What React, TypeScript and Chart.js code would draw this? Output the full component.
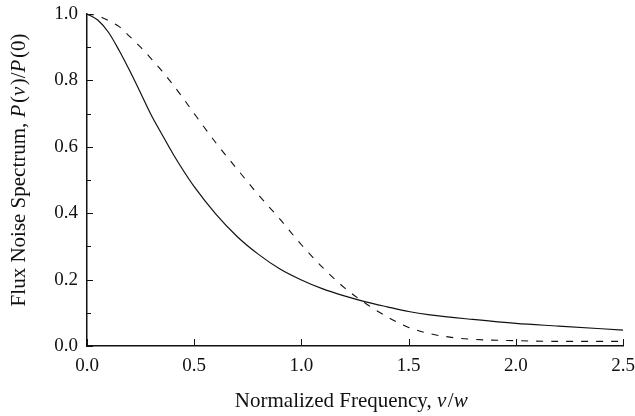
import React, { useEffect, useRef } from "react";
import { Chart, registerables } from "chart.js";

Chart.register(...registerables);

// Solid curve
const solidX = [0, 0.05, 0.1, 0.15, 0.2, 0.25, 0.3, 0.35, 0.4, 0.45, 0.5, 0.6, 0.7, 0.8, 0.9, 1.0, 1.1, 1.2, 1.3, 1.4, 1.5, 1.6, 1.8, 2.0, 2.2, 2.4, 2.5];
const solidY = [1.0, 0.982, 0.945, 0.89, 0.828, 0.762, 0.695, 0.637, 0.58, 0.528, 0.48, 0.398, 0.33, 0.276, 0.232, 0.199, 0.172, 0.151, 0.133, 0.118, 0.104, 0.094, 0.08, 0.068, 0.06, 0.052, 0.048];

// Dashed curve
const dashedX = [0, 0.05, 0.1, 0.15, 0.2, 0.25, 0.3, 0.35, 0.4, 0.45, 0.5, 0.6, 0.7, 0.8, 0.9, 1.0, 1.1, 1.2, 1.3, 1.4, 1.5, 1.6, 1.7, 1.8, 2.0, 2.2, 2.5];
const dashedY = [1.0, 0.995, 0.98, 0.962, 0.932, 0.9, 0.865, 0.828, 0.788, 0.745, 0.7, 0.613, 0.533, 0.455, 0.382, 0.305, 0.236, 0.176, 0.128, 0.088, 0.056, 0.037, 0.026, 0.02, 0.016, 0.014, 0.014];

const xMajorTicks = [0, 0.5, 1.0, 1.5, 2.0, 2.5];
const yMajorTicks = [0, 0.2, 0.4, 0.6, 0.8, 1.0];
const yMinorTicks = [0.1, 0.3, 0.5, 0.7, 0.9];

// Axis titles as [text, italic] runs
const xTitleRuns: [string, boolean][] = [["Normalized Frequency, ", false], ["\u03bd", true], ["/", false], ["w", true]];
const yTitleRuns: [string, boolean][] = [["Flux Noise Spectrum, ", false], ["P", true], ["(", false], ["\u03bd", true], [")/", false], ["P", true], ["(0)", false]];

const FONT = '"Liberation Serif", "Times New Roman", serif';
const INK = "#111";
const TICK_SIZE = 19;
const TITLE_SIZE = 21;

function drawRuns(ctx: CanvasRenderingContext2D, runs: [string, boolean][], cx: number, cy: number) {
  const fontFor = (it: boolean) => `${it ? "italic " : ""}${TITLE_SIZE}px ${FONT}`;
  let total = 0;
  const widths = runs.map(([t, it]) => {
    ctx.font = fontFor(it);
    const w = ctx.measureText(t).width + (it ? 1.5 : 0);
    total += w;
    return w;
  });
  let x = cx - total / 2;
  ctx.textBaseline = "middle";
  ctx.textAlign = "left";
  runs.forEach(([t, it], i) => {
    ctx.font = fontFor(it);
    ctx.fillText(t, x, cy);
    x += widths[i];
  });
}

const decorations = {
  id: "decorations",
  afterDatasetsDraw(chart: any) {
    const { ctx, chartArea, scales } = chart;
    const xs = scales.x;
    const ys = scales.y;
    ctx.save();
    ctx.strokeStyle = INK;
    ctx.lineWidth = 1;
    ctx.beginPath();
    yMajorTicks.forEach((v) => {
      const py = Math.round(ys.getPixelForValue(v)) + 0.5;
      ctx.moveTo(chartArea.left, py);
      ctx.lineTo(chartArea.left + 6, py);
    });
    yMinorTicks.forEach((v) => {
      const py = Math.round(ys.getPixelForValue(v)) + 0.5;
      ctx.moveTo(chartArea.left, py);
      ctx.lineTo(chartArea.left + 4, py);
    });
    xMajorTicks.forEach((v) => {
      const px = Math.round(xs.getPixelForValue(v)) + 0.5;
      ctx.moveTo(px, chartArea.bottom);
      ctx.lineTo(px, chartArea.bottom - 7);
    });
    ctx.stroke();

    ctx.fillStyle = INK;
    // x title
    drawRuns(ctx, xTitleRuns, (chartArea.left + chartArea.right) / 2 - 3, 401);
    // y title
    ctx.save();
    ctx.translate(19, (chartArea.top + chartArea.bottom) / 2 - 10);
    ctx.rotate(-Math.PI / 2);
    drawRuns(ctx, yTitleRuns, 0, 0);
    ctx.restore();
    ctx.restore();
  },
};

export default function App() {
  const ref = useRef<HTMLCanvasElement>(null);
  useEffect(() => {
    document.body.style.margin = "0";
    const canvas = ref.current;
    if (!canvas) return;
    const chart = new Chart(canvas, {
      type: "line",
      data: {
        datasets: [
          {
            data: solidX.map((x, i) => ({ x, y: solidY[i] })),
            borderColor: INK,
            borderWidth: 1.2,
            pointRadius: 0,
            cubicInterpolationMode: "monotone",
            fill: false,
          },
          {
            data: dashedX.map((x, i) => ({ x, y: dashedY[i] })),
            borderColor: INK,
            borderWidth: 1.1,
            borderDash: [7, 8],
            pointRadius: 0,
            cubicInterpolationMode: "monotone",
            fill: false,
          },
        ],
      },
      options: {
        animation: false,
        responsive: false,
        layout: { padding: { left: 0, top: 14, right: 12, bottom: 0 } },
        plugins: { legend: { display: false }, tooltip: { enabled: false } },
        scales: {
          x: {
            type: "linear",
            min: 0,
            max: 2.5,
            afterFit: (s: any) => {
              s.height = 70;
              s.paddingLeft = 0;
              s.paddingRight = 0;
            },
            grid: { drawOnChartArea: false, drawTicks: false },
            border: { display: true, color: INK, width: 1.5 },
            ticks: {
              stepSize: 0.5,
              padding: 9,
              color: INK,
              font: { family: FONT, size: TICK_SIZE },
              callback: (v: any) => Number(v).toFixed(1),
              maxRotation: 0,
            },
            title: { display: false },
          },
          y: {
            type: "linear",
            min: 0,
            max: 1,
            afterFit: (s: any) => {
              s.width = 87;
              s.paddingTop = 0;
              s.paddingBottom = 0;
            },
            grid: { drawOnChartArea: false, drawTicks: false },
            border: { display: true, color: INK, width: 1.5 },
            ticks: {
              stepSize: 0.2,
              padding: 9,
              color: INK,
              font: { family: FONT, size: TICK_SIZE },
              callback: (v: any) => Number(v).toFixed(1),
            },
            title: { display: false },
          },
        },
      },
      plugins: [decorations],
    } as any);
    return () => chart.destroy();
  }, []);
  return (
    <div style={{ width: 635, height: 416, background: "#fff" }}>
      <canvas ref={ref} width={635} height={416} />
    </div>
  );
}
